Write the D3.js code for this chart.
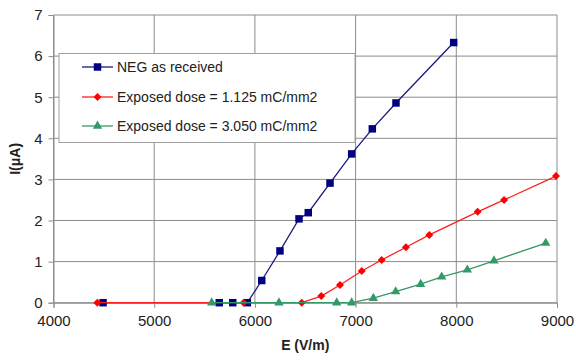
<!DOCTYPE html>
<html>
<head>
<meta charset="utf-8">
<script src="https://cdn.jsdelivr.net/npm/d3@7"></script>
<style>
  body { margin: 0; background: #fff; }
  text { font-family: "Liberation Sans", Arial, sans-serif; }
</style>
</head>
<body>
<svg id="chart" width="576" height="363"></svg>
<script>
// NEG as received
const negE = [4492, 5646, 5780, 5925, 6068, 6249, 6438, 6530, 6746, 6961, 7166, 7401, 7974];
const negI = [0, 0, 0, 0, 0.54, 1.26, 2.04, 2.19, 2.91, 3.62, 4.23, 4.86, 6.33];

// Exposed dose = 1.125 mC/mm2
const dose1E = [4435, 5888, 6465, 6659, 6845, 7061, 7259, 7500, 7732, 8212, 8474, 8990];
const dose1I = [0, 0, 0, 0.16, 0.43, 0.77, 1.04, 1.35, 1.65, 2.21, 2.50, 3.08];

// Exposed dose = 3.050 mC/mm2
const dose2E = [5571, 6239, 6812, 6961, 7176, 7398, 7646, 7855, 8109, 8374, 8888];
const dose2I = [0, 0, 0, 0, 0.11, 0.27, 0.45, 0.63, 0.80, 1.02, 1.45];

const xTicks = [4000, 5000, 6000, 7000, 8000, 9000];
const yTicks = [0, 1, 2, 3, 4, 5, 6, 7];

const seriesNames = ["NEG as received", "Exposed dose = 1.125 mC/mm2", "Exposed dose = 3.050 mC/mm2"];

const svg = d3.select("#chart");
const plot = { left: 53.5, right: 557, top: 15, bottom: 302.7 };

const x = d3.scaleLinear().domain([4000, 9000]).range([plot.left, plot.right]);
const y = d3.scaleLinear().domain([0, 7]).range([plot.bottom, plot.top]);

// gridlines
const grid = svg.append("g").attr("class", "grid");
grid.selectAll("line.h").data(yTicks).enter().append("line")
  .attr("x1", plot.left).attr("x2", plot.right)
  .attr("y1", d => y(d)).attr("y2", d => y(d))
  .attr("stroke", "#8c8c8c").attr("stroke-width", 1);
grid.selectAll("line.v").data(xTicks).enter().append("line")
  .attr("y1", plot.top).attr("y2", plot.bottom)
  .attr("x1", d => x(d)).attr("x2", d => x(d))
  .attr("stroke", "#8c8c8c").attr("stroke-width", 1);

// axes
const xAxis = svg.append("g")
  .attr("transform", "translate(0," + plot.bottom + ")")
  .call(d3.axisBottom(x).tickValues(xTicks).tickFormat(d3.format("d")).tickSize(5).tickPadding(8));
const yAxis = svg.append("g")
  .attr("transform", "translate(" + plot.left + ",0)")
  .call(d3.axisLeft(y).tickValues(yTicks).tickFormat(d3.format("d")).tickSize(5).tickPadding(6));
[xAxis, yAxis].forEach(a => {
  a.selectAll("path, line").attr("stroke", "#8c8c8c");
  a.selectAll("text").attr("font-size", 15).attr("fill", "#222")
    .style("font-family", "'Liberation Sans', Arial, sans-serif");
});

// axis titles
svg.append("text")
  .attr("x", (plot.left + plot.right) / 2).attr("y", 350)
  .attr("text-anchor", "middle").attr("font-size", 14).attr("font-weight", "bold")
  .attr("fill", "#222").text("E (V/m)");
svg.append("text")
  .attr("transform", "translate(20," + ((plot.top + plot.bottom) / 2) + ") rotate(-90)")
  .attr("text-anchor", "middle").attr("font-size", 14).attr("font-weight", "bold")
  .attr("fill", "#222").text("I(μA)");

// series (red diamond = square turned 45deg, like Excel's marker)
const series = [
  { name: seriesNames[0], E: negE, I: negI, color: "#000080", line: "#1a1a80", shape: d3.symbolSquare, size: 56, rot: 0 },
  { name: seriesNames[1], E: dose1E, I: dose1I, color: "#ff0000", line: "#ff2020", shape: d3.symbolSquare, size: 32, rot: 45 },
  { name: seriesNames[2], E: dose2E, I: dose2I, color: "#339966", line: "#339966", shape: d3.symbolTriangle, size: 38, rot: 0 }
];

const lineGen = d3.line().x(d => x(d[0])).y(d => y(d[1]));

series.forEach(s => {
  const pts = s.E.map((e, i) => [e, s.I[i]]);
  const g = svg.append("g");
  g.append("path").datum(pts)
    .attr("d", lineGen).attr("fill", "none")
    .attr("stroke", s.line).attr("stroke-width", 1.3);
  g.selectAll("path.m").data(pts).enter().append("path")
    .attr("class", "m")
    .attr("d", d3.symbol().type(s.shape).size(s.size))
    .attr("transform", d => "translate(" + x(d[0]) + "," + y(d[1]) + ") rotate(" + s.rot + ")")
    .attr("fill", s.color);
});

// legend
const legend = svg.append("g");
legend.append("rect")
  .attr("x", 59).attr("y", 53.5).attr("width", 296).attr("height", 89)
  .attr("fill", "#fff").attr("stroke", "#a0a0a0").attr("stroke-width", 1);
const rowY = [67, 97, 126];
series.forEach((s, i) => {
  legend.append("line")
    .attr("x1", 82).attr("x2", 113).attr("y1", rowY[i]).attr("y2", rowY[i])
    .attr("stroke", s.line).attr("stroke-width", 1.3);
  legend.append("path")
    .attr("d", d3.symbol().type(s.shape).size(s.size))
    .attr("transform", "translate(97.5," + rowY[i] + ") rotate(" + s.rot + ")")
    .attr("fill", s.color);
  legend.append("text")
    .attr("x", 117).attr("y", rowY[i] + 5)
    .attr("font-size", 14).attr("fill", "#222").text(s.name);
});
</script>
</body>
</html>
